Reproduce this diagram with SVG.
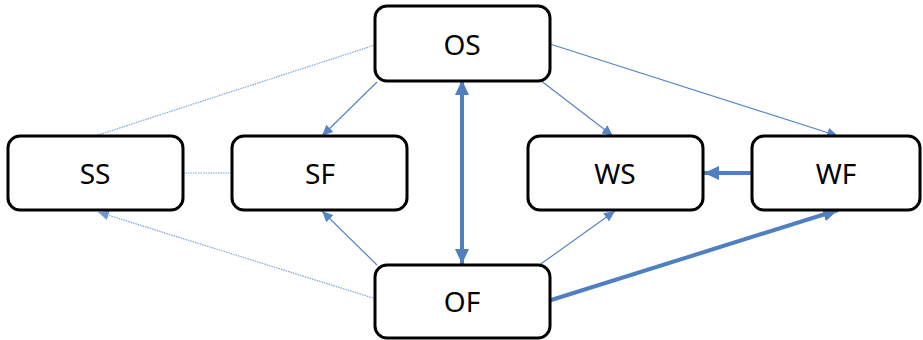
<svg xmlns="http://www.w3.org/2000/svg" width="923" height="340" viewBox="0 0 923 340">
<style>
.box{fill:#fff;stroke:#000;stroke-width:3}
.lbl{font-family:"Noto Sans","Open Sans",sans-serif;font-size:28px;fill:#000;text-anchor:middle;dominant-baseline:central}
.thin{stroke:#5585C5;stroke-width:1.2;fill:none}
.dot{stroke:#7FA4D6;stroke-width:1.2;stroke-dasharray:1.5 1;fill:none}
.thick{stroke:#4F7FC0;stroke-width:4;fill:none}
</style>
<defs>
<marker id="a" markerUnits="userSpaceOnUse" markerWidth="12" markerHeight="10" refX="11" refY="5" orient="auto"><path d="M0,0 L11,5 L0,10 Z" fill="#5585C5"/></marker>
<marker id="ad" markerUnits="userSpaceOnUse" markerWidth="12" markerHeight="10" refX="11" refY="5" orient="auto"><path d="M0,0 L11,5 L0,10 Z" fill="#6F97D0"/></marker>
<marker id="at" markerUnits="userSpaceOnUse" markerWidth="16" markerHeight="14" refX="15" refY="7" orient="auto"><path d="M0,0 L15,7 L0,14 Z" fill="#4F7FC0"/></marker>
<marker id="ats" markerUnits="userSpaceOnUse" markerWidth="16" markerHeight="14" refX="1" refY="7" orient="auto"><path d="M15,0 L0,7 L15,14 Z" fill="#4F7FC0"/></marker>
</defs>
<g id="connectors">
<line class="dot" x1="375" y1="45" x2="95" y2="136"/>
<line class="dot" x1="183" y1="173" x2="232" y2="173"/>
<line class="dot" x1="373" y1="298" x2="98" y2="212" marker-end="url(#ad)"/>
<line class="thin" x1="377" y1="82" x2="322" y2="136" marker-end="url(#a)"/>
<line class="thin" x1="540" y1="80" x2="613" y2="136" marker-end="url(#a)"/>
<line class="thin" x1="550" y1="44" x2="838" y2="136" marker-end="url(#a)"/>
<line class="thin" x1="377" y1="265" x2="322" y2="211" marker-end="url(#a)"/>
<line class="thin" x1="538" y1="266" x2="615" y2="211" marker-end="url(#a)"/>
<line class="thick" x1="752" y1="173" x2="704" y2="173" marker-end="url(#at)"/>
<line class="thick" x1="462" y1="81" x2="462" y2="264" marker-start="url(#ats)" marker-end="url(#at)"/>
<line class="thick" x1="548" y1="301" x2="838" y2="210" marker-end="url(#at)"/>
</g>
<g id="OS"><rect class="box" x="375" y="6" width="175" height="75" rx="12"/><text class="lbl" x="462" y="44">OS</text></g>
<g id="SS"><rect class="box" x="8" y="136" width="175" height="74" rx="12"/><text class="lbl" x="95" y="173">SS</text></g>
<g id="SF"><rect class="box" x="232" y="136" width="175" height="74" rx="12"/><text class="lbl" x="320" y="173">SF</text></g>
<g id="WS"><rect class="box" x="528" y="136" width="175" height="74" rx="12"/><text class="lbl" x="615" y="173">WS</text></g>
<g id="WF"><rect class="box" x="752" y="136" width="168" height="74" rx="12"/><text class="lbl" x="836" y="173">WF</text></g>
<g id="OF"><rect class="box" x="375" y="265" width="175" height="73" rx="12"/><text class="lbl" x="462" y="301">OF</text></g>
</svg>
